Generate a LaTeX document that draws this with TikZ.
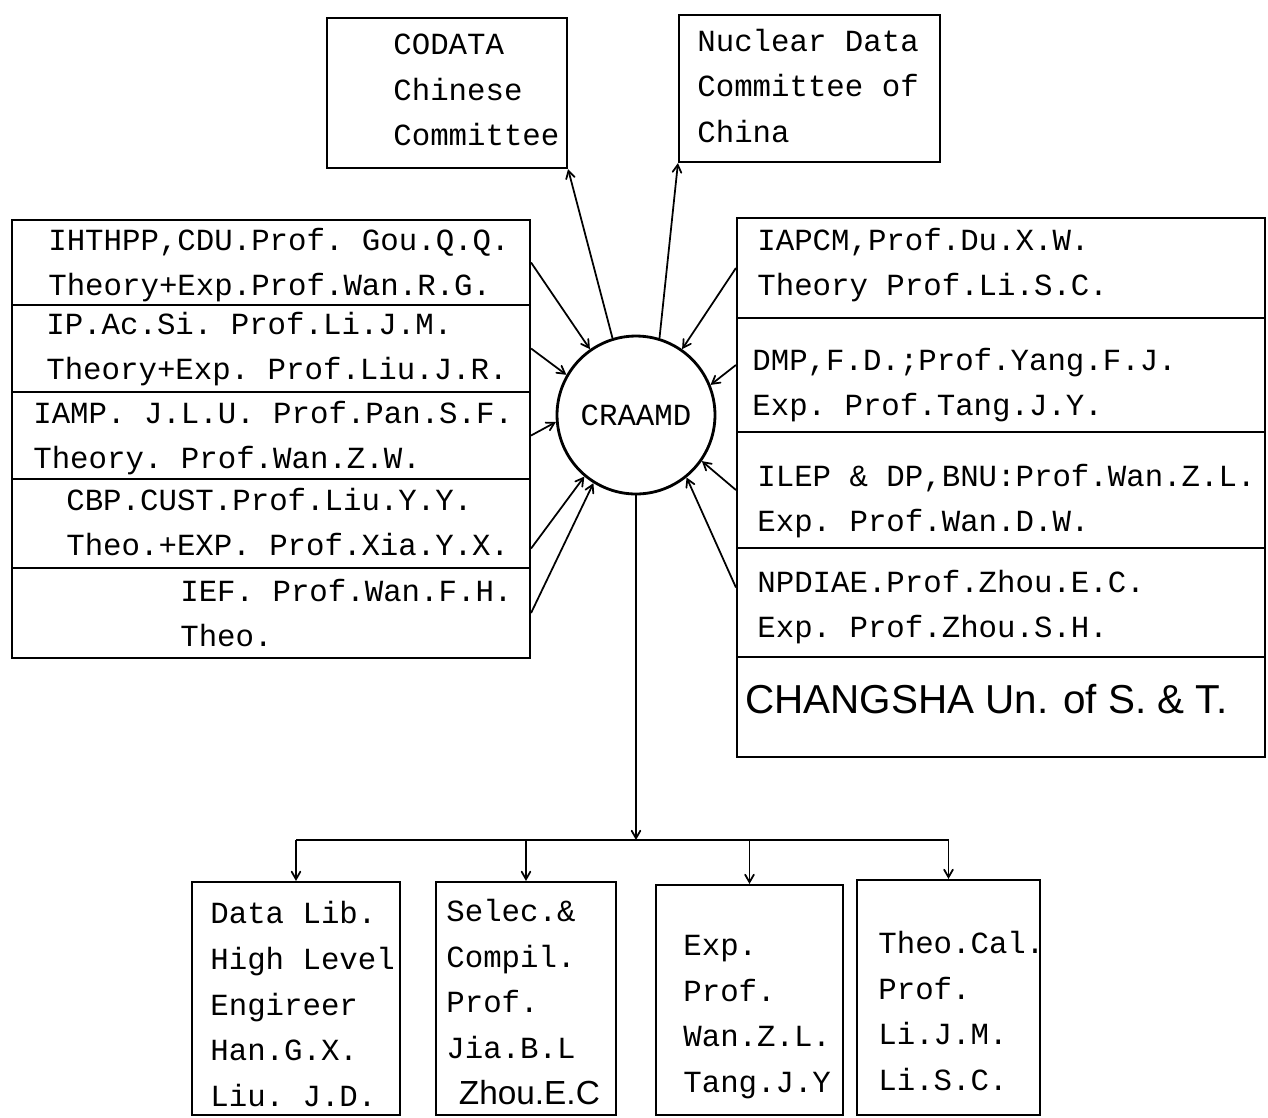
\documentclass[tikz,border=0pt]{standalone}
\usepackage{fontspec}
\setmonofont{Liberation Mono}
\newfontfamily\handfont{Liberation Sans}
\usetikzlibrary{arrows, positioning, fit}

\tikzset{
  box/.style={draw, line width=1.2pt, inner sep=0pt},
  txt/.style={anchor=west, align=left, inner sep=0pt,
    font=\ttfamily\fontsize{17.5}{26}\selectfont},
  link/.style={->, >=angle 60, line width=1pt},
}

\begin{document}
\begin{tikzpicture}[x=0.02cm, y=-0.02cm]
\useasboundingbox (0,0) rectangle (1268,1117);

% committees on top
\node[box, fit={(327,18) (567,168)}] (cod) {};
\node[txt] (codt) at (393,90) {CODATA\\Chinese\\Committee};
\node[box, fit={(679,15) (940,162)}] (nuc) {};
\node[txt] (nuct) at (697,86) {Nuclear Data\\Committee of\\China};

% centre
\node[draw, circle, line width=1.6pt, minimum size=3.16cm, inner sep=0pt,
  font=\ttfamily\fontsize{17.5}{20}\selectfont] (c) at (636,415) {CRAAMD};

% left stack
\node[box, fit={(12,220) (530,305)}] (l1) {};
\node[box, fit={(12,305) (530,392)}] (l2) {};
\node[box, fit={(12,392) (530,479)}] (l3) {};
\node[box, fit={(12,479) (530,568)}] (l4) {};
\node[box, fit={(12,568) (530,658)}] (l5) {};
\node[txt] (l1t) at (48,265) {IHTHPP,CDU.Prof. Gou.Q.Q.\\Theory+Exp.Prof.Wan.R.G.};
\node[txt] (l2t) at (46,349) {IP.Ac.Si. Prof.Li.J.M.\\Theory+Exp. Prof.Liu.J.R.};
\node[txt] (l3t) at (33,438) {IAMP. J.L.U. Prof.Pan.S.F.\\Theory. Prof.Wan.Z.W.};
\node[txt] (l4t) at (66,522) {CBP.CUST.Prof.Liu.Y.Y.\\Theo.+EXP. Prof.Xia.Y.X.};
\node[txt] (l5t) at (180,613) {IEF. Prof.Wan.F.H.\\Theo.};

% right stack
\node[box, fit={(737,218) (1265,318)}] (r1) {};
\node[box, fit={(737,318) (1265,432)}] (r2) {};
\node[box, fit={(737,432) (1265,548)}] (r3) {};
\node[box, fit={(737,548) (1265,657)}] (r4) {};
\node[box, fit={(737,657) (1265,757)}] (r5) {};
\node[txt] (r1t) at (757,265) {IAPCM,Prof.Du.X.W.\\Theory Prof.Li.S.C.};
\node[txt] (r2t) at (752,385) {DMP,F.D.;Prof.Yang.F.J.\\Exp. Prof.Tang.J.Y.};
\node[txt] (r3t) at (757,501) {ILEP \& DP,BNU:Prof.Wan.Z.L.\\Exp. Prof.Wan.D.W.};
\node[txt] (r4t) at (757,607) {NPDIAE.Prof.Zhou.E.C.\\Exp. Prof.Zhou.S.H.};
\node[anchor=west, inner sep=0pt, font=\handfont\fontsize{23}{26}\selectfont]
  (r5t) at (745,699) {CHANGSHA Un. of S. \& T.};

% groups below
\node[box, fit={(192,882) (400,1115)}] (b1) {};
\node[box, fit={(436,882) (616,1115)}] (b2) {};
\node[box, fit={(656,885) (843,1115)}] (b3) {};
\node[box, fit={(857,880) (1040,1115)}] (b4) {};
\node[txt] (b1t) at (210,1004) {Data Lib.\\High Level\\Engireer\\Han.G.X.\\Liu. J.D.};
\node[txt] (b2t) at (446,1002) {Selec.\&\\Compil.\\Prof.\\Jia.B.L\\
  \hspace*{0.25cm}{\handfont\fontsize{19}{26}\selectfont Zhou.E.C}};
\node[txt] (b3t) at (683,1017) {Exp.\\Prof.\\Wan.Z.L.\\Tang.J.Y};
\node[txt] (b4t) at (878,1011) {Theo.Cal.\\Prof.\\Li.J.M.\\Li.S.C.};

% arrows
\draw[link] (c.107) -- (cod.south east);
\draw[link] (c.73) -- (nuc.south west);
\draw[link] (l1.east) -- (c.125);
\draw[link] (l2.east) -- (c.150);
\draw[link] (l3.east) -- (c.185);
\draw[link] ([yshift=-0.5cm]l4.east) -- (c.230);
\draw[link] (l5.east) -- (c.238);
\draw[link] (r1.west) -- (c.55);
\draw[link] ([yshift=0.2cm]r2.west) -- (c.22);
\draw[link] (r3.west) -- (c.-35);
\draw[link] ([yshift=0.3cm]r4.west) -- (c.-51);

\coordinate (bus) at (636,840);
\draw[link] (c.south) -- (bus);
\draw[line width=1.2pt] (b1.north |- bus) -- (b4.north |- bus);
\draw[link] (b1.north |- bus) -- (b1.north);
\draw[link] (b2.north |- bus) -- (b2.north);
\draw[link] (b3.north |- bus) -- (b3.north);
\draw[link] (b4.north |- bus) -- (b4.north);
\end{tikzpicture}
\end{document}
